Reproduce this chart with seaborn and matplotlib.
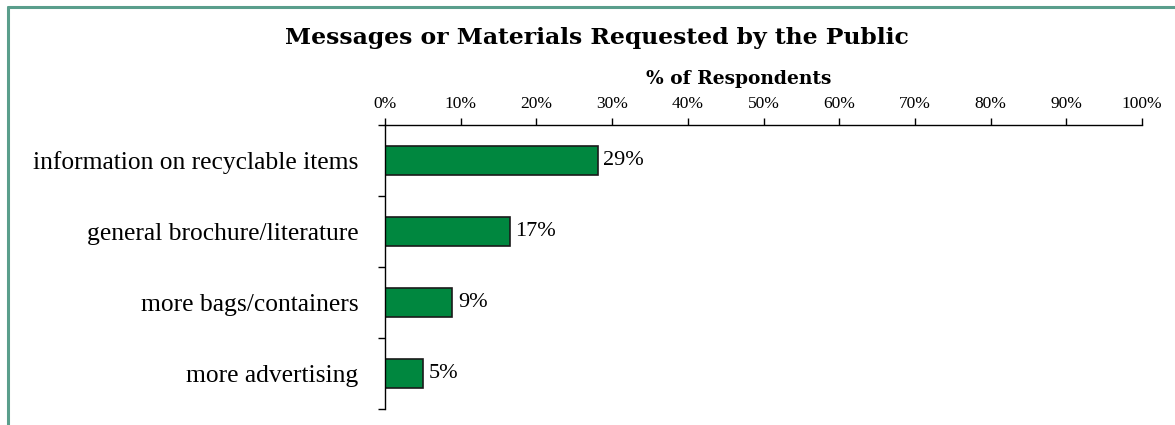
import matplotlib
matplotlib.use("Agg")
import matplotlib.pyplot as plt
from matplotlib.lines import Line2D
import seaborn as sns
import pandas as pd

categories = ["information on recyclable items", "general brochure/literature",
              "more bags/containers", "more advertising"]
values = [28.1, 16.5, 8.9, 5.0]
value_labels = ["29%", "17%", "9%", "5%"]
xticks = [0, 10, 20, 30, 40, 50, 60, 70, 80, 90, 100]
xtick_labels = [f"{t}%" for t in xticks]
title = "Messages or Materials Requested by the Public"
axis_title = "% of Respondents"

sns.set_style("white")
plt.rcParams["font.family"] = ["Liberation Serif", "DejaVu Serif"]
plt.rcParams["text.color"] = "black"
plt.rcParams["xtick.color"] = "black"
plt.rcParams["ytick.color"] = "black"
plt.rcParams["axes.labelcolor"] = "black"

fig = plt.figure(figsize=(11.75, 4.25), dpi=100)
ax = fig.add_axes([385/1175, 1-409/425, (1142-385)/1175, (409-125)/425])

df = pd.DataFrame({"cat": categories, "val": values})
sns.barplot(data=df, x="val", y="cat", orient="h", color="#00873f",
            saturation=1, edgecolor="#1a1a1a", linewidth=1.2, width=0.41, ax=ax)

ax.set_xlim(0, 100)
ax.set_ylim(3.5, -0.5)
ax.xaxis.tick_top()
ax.set_xticks(xticks)
ax.set_xticklabels(xtick_labels, fontsize=12.5)
ax.tick_params(axis="x", top=True, direction="out", length=5, width=1, pad=4, color="black")
ax.set_xlabel("")
ax.set_ylabel("")
ax.set_yticks(range(len(categories)))
ax.set_yticklabels(categories, fontsize=18.4)
ax.tick_params(axis="y", which="major", left=True, length=0, pad=19)
ax.set_yticks([-0.5, 0.5, 1.5, 2.5, 3.5], minor=True)
ax.tick_params(axis="y", which="minor", left=True, direction="out", length=5, width=1, color="black")

for s in ["right", "bottom"]:
    ax.spines[s].set_visible(False)
for s in ["top", "left"]:
    ax.spines[s].set_color("black")
    ax.spines[s].set_linewidth(1)

for i, (v, lab) in enumerate(zip(values, value_labels)):
    ax.annotate(lab, xy=(v, i), xytext=(4, 0), textcoords="offset points",
                ha="left", va="center", fontsize=16, color="black")

fig.text(597/1175, 1-38/425, title, ha="center", va="center",
         fontsize=16.9, fontweight="heavy", family="DejaVu Serif", color="black")
fig.text(739/1175, 1-79/425, axis_title, ha="center", va="center",
         fontsize=13.4, fontweight="heavy", family="DejaVu Serif", color="black")

border = "#5a9e8c"
fig.add_artist(Line2D([8/1175, 1], [1-7/425, 1-7/425], transform=fig.transFigure,
                      color=border, linewidth=2.2))
fig.add_artist(Line2D([8/1175, 8/1175], [0, 1-7/425], transform=fig.transFigure,
                      color=border, linewidth=2.2))

fig.savefig("out.png", dpi=100)
